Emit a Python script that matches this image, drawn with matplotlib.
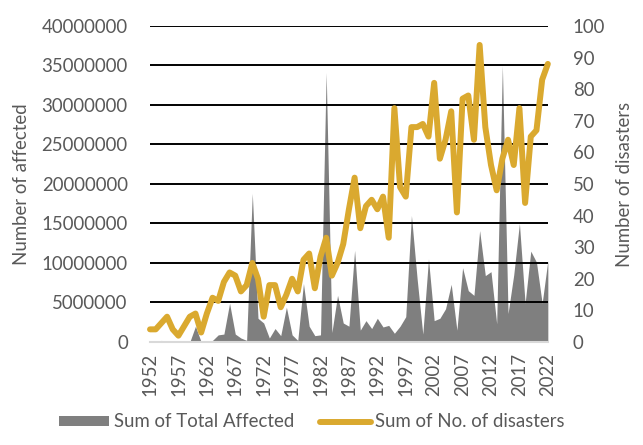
import numpy as np
import matplotlib
matplotlib.use("Agg")
import matplotlib.pyplot as plt

plt.rcParams['font.family'] = ['Lato', 'DejaVu Sans']

# Data
years = list(range(1952, 2023))

affected_millions = [
    0, 0, 0.2, 0, 0, 0, 0, 0, 2.0, 0,            # 1952-1961
    0, 0.2, 0.9, 1.0, 4.9, 1.0, 0.5, 0.2, 18.8, 3.0,   # 1962-1971
    2.4, 0.5, 1.7, 0.8, 4.4, 0.9, 0.2, 7.4, 2.0, 0.8,  # 1972-1981
    0.9, 34.1, 1.2, 5.9, 2.4, 2.0, 11.6, 1.5, 2.7, 1.7,  # 1982-1991
    3.0, 1.9, 2.1, 1.1, 2.0, 3.2, 16.0, 8.0, 1.0, 10.5,  # 1992-2001
    2.7, 3.0, 4.2, 7.3, 1.5, 9.4, 6.5, 5.9, 14.1, 8.4,   # 2002-2011
    8.9, 2.3, 35.0, 3.6, 8.5, 15.0, 4.9, 11.5, 10.1, 4.9,  # 2012-2021
    10.3,                                          # 2022
]
total_affected = [v * 1e6 for v in affected_millions]

no_of_disasters = [
    4, 4, 6, 8, 4, 2, 5, 8, 9, 3,        # 1952-1961
    9, 14, 13, 19, 22, 21, 16, 18, 25, 20,  # 1962-1971
    8, 18, 18, 11, 15, 20, 16, 26, 28, 17,  # 1972-1981
    27, 33, 21, 25, 31, 42, 52, 36, 43, 45,  # 1982-1991
    42, 46, 33, 74, 49, 46, 68, 68, 69, 65,  # 1992-2001
    82, 58, 64, 73, 41, 77, 78, 64, 94, 68,  # 2002-2011
    56, 48, 58, 64, 56, 74, 44, 65, 67, 83,  # 2012-2021
    88,                                      # 2022
]

tick_years = list(range(1952, 2023, 5))

gray = "#7f7f7f"
gold = "#daa92f"
text_col = "#595959"

fig = plt.figure(figsize=(6.43, 4.45), dpi=100)
ax = fig.add_axes([0.2333, 0.2315, 0.6187, 0.7101])
ax2 = ax.twinx()

# area for total affected
ax.fill_between(years, total_affected, 0, color=gray, linewidth=0,
                label="Sum of Total Affected")
ax.set_xlim(1952, 2022)
ax.set_ylim(0, 40000000)
ax.set_yticks(np.arange(0, 40000001, 5000000))
ax.yaxis.set_major_formatter(matplotlib.ticker.FuncFormatter(lambda v, p: f"{int(v)}"))
ax.grid(axis="y", color="black", linewidth=1.4)
ax.set_xticks(tick_years)
ax.set_xticklabels([str(y) for y in tick_years], rotation=90)

# line for number of disasters
ax2.plot(years, no_of_disasters, color=gold, linewidth=4.3,
         solid_joinstyle="round", solid_capstyle="round", clip_on=False,
         label="Sum of No. of disasters")
ax2.set_ylim(0, 100)
ax2.set_yticks(np.arange(0, 101, 10))

for a in (ax, ax2):
    for s in a.spines.values():
        s.set_visible(False)
    a.tick_params(length=0, labelsize=13.4, colors=text_col)
ax.spines["bottom"].set_visible(True)
ax.spines["bottom"].set_color("#d9d9d9")
ax.spines["bottom"].set_linewidth(1.5)
ax.tick_params(axis="y", pad=16)
ax.tick_params(axis="x", pad=8)
ax2.tick_params(axis="y", pad=18)

ax.set_ylabel("Number of affected", fontsize=13.4, color=text_col, labelpad=8)
ax2.set_ylabel("Number of disasters", fontsize=13.4, color=text_col,
               rotation=90, labelpad=8)

h1, l1 = ax.get_legend_handles_labels()
h2, l2 = ax2.get_legend_handles_labels()
fig.legend(h1 + h2, l1 + l2, loc="lower center", bbox_to_anchor=(0.485, -0.005),
           ncol=2, frameon=False, fontsize=13.4, labelcolor=text_col,
           handlelength=2.7, handleheight=0.45, handletextpad=0.25,
           columnspacing=1.4)

fig.savefig("out.png", dpi=100)
